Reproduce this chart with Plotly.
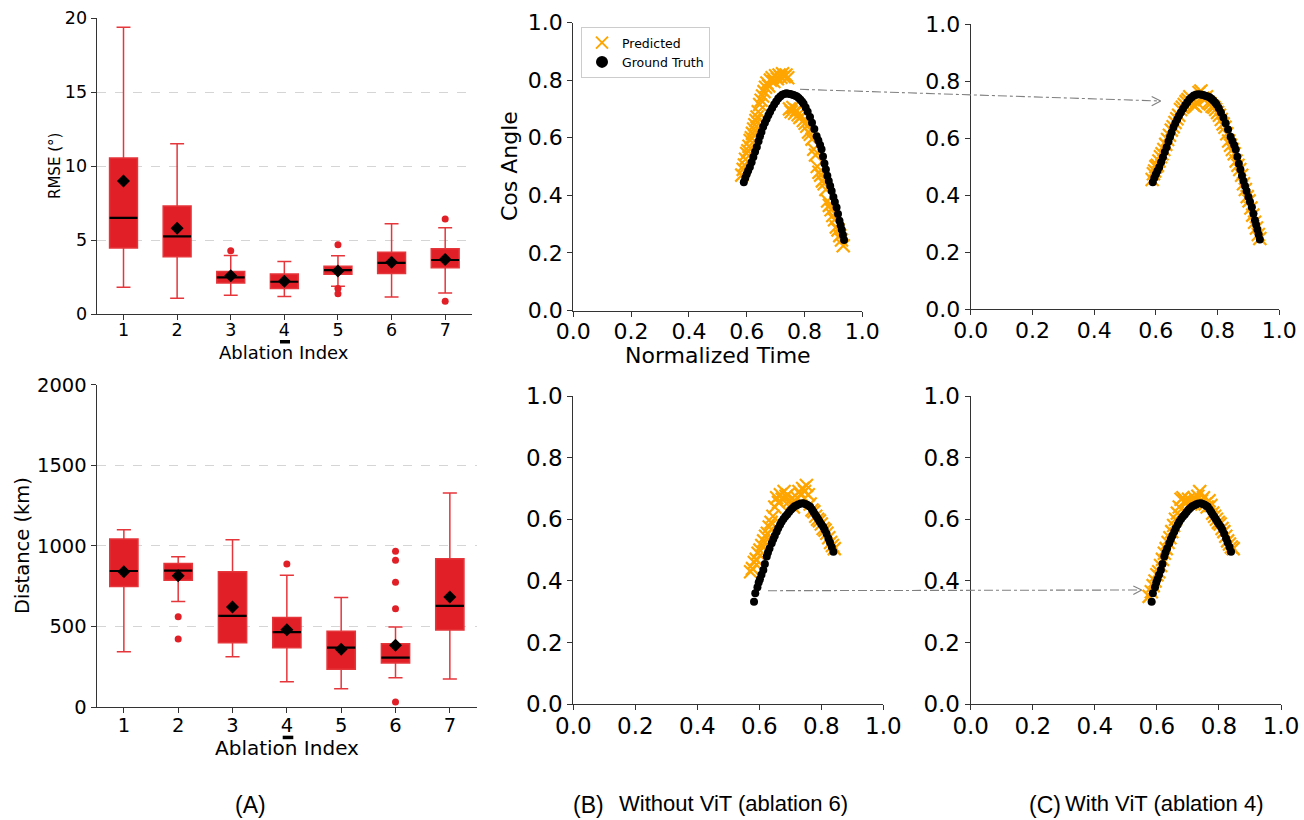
import plotly.graph_objects as go

W, H = 1304, 820

# ---------------- Data ----------------
ablation_idx = [1, 2, 3, 4, 5, 6, 7]

# RMSE (deg) box statistics
rmse_lower = [1.80, 1.06, 1.26, 1.19, 1.87, 1.15, 1.42]
rmse_q1 = [4.46, 3.87, 2.09, 1.73, 2.68, 2.73, 3.13]
rmse_median = [6.49, 5.25, 2.48, 2.18, 2.97, 3.45, 3.65]
rmse_q3 = [10.54, 7.30, 2.88, 2.70, 3.22, 4.17, 4.41]
rmse_upper = [19.37, 11.51, 3.96, 3.54, 3.94, 6.10, 5.83]
rmse_mean = [8.99, 5.79, 2.59, 2.21, 2.91, 3.49, 3.69]
rmse_out_x = [3, 5, 5, 5, 7, 7]
rmse_out_y = [4.28, 4.68, 1.73, 1.37, 6.42, 0.86]

# Distance (km) box statistics
dist_lower = [343, 654, 312, 157, 114, 182, 174]
dist_q1 = [747, 786, 399, 368, 234, 273, 478]
dist_median = [844, 846, 565, 465, 368, 306, 627]
dist_q3 = [1042, 891, 840, 556, 470, 393, 920]
dist_upper = [1100, 933, 1038, 817, 680, 496, 1328]
dist_mean = [840, 815, 620, 480, 358, 383, 683]
dist_out_x = [2, 2, 4, 6, 6, 6, 6, 6]
dist_out_y = [560, 422, 887, 966, 910, 774, 610, 31]

# Top row ground truth (normalized time, cos angle)
gt_top_x = [0.590, 0.595, 0.600, 0.605, 0.611, 0.617, 0.623, 0.629, 0.635, 0.641,
            0.646, 0.651, 0.657, 0.663, 0.669, 0.675, 0.681, 0.688, 0.695, 0.702,
            0.709, 0.716, 0.723, 0.730, 0.737, 0.744, 0.750, 0.756, 0.762, 0.768,
            0.774, 0.780, 0.786, 0.792, 0.797, 0.804, 0.811, 0.819, 0.826, 0.834,
            0.842, 0.848, 0.854, 0.859, 0.864, 0.869, 0.874, 0.879, 0.884, 0.889,
            0.894, 0.900, 0.905, 0.911, 0.916, 0.921, 0.925, 0.929, 0.933, 0.937]
gt_top_y = [0.445, 0.460, 0.473, 0.485, 0.498, 0.515, 0.533, 0.551, 0.568, 0.588,
            0.605, 0.620, 0.638, 0.652, 0.665, 0.678, 0.690, 0.703, 0.715, 0.726,
            0.736, 0.743, 0.749, 0.752, 0.754, 0.753, 0.752, 0.750, 0.748, 0.746,
            0.743, 0.738, 0.732, 0.725, 0.718, 0.705, 0.690, 0.672, 0.652, 0.630,
            0.605, 0.590, 0.575, 0.560, 0.535, 0.510, 0.490, 0.468, 0.450, 0.432,
            0.415, 0.394, 0.377, 0.358, 0.335, 0.312, 0.296, 0.280, 0.262, 0.245]

# Top row predicted, without ViT (ablation 6)
pred_top_b_x = [0.583, 0.588, 0.592, 0.596, 0.600, 0.604, 0.608, 0.612, 0.616, 0.620,
                0.624, 0.628, 0.632, 0.636, 0.640, 0.645, 0.650, 0.655, 0.660, 0.665,
                0.670, 0.676, 0.682, 0.688, 0.694, 0.700, 0.706, 0.712, 0.718, 0.724,
                0.730, 0.736, 0.742, 0.748, 0.754, 0.760, 0.766, 0.772, 0.778, 0.784,
                0.790, 0.796, 0.802, 0.808, 0.814, 0.820, 0.826, 0.832, 0.838, 0.844,
                0.850, 0.856, 0.862, 0.868, 0.874, 0.880, 0.886, 0.892, 0.898, 0.904,
                0.910, 0.916, 0.922, 0.928, 0.934]
pred_top_b_y = [0.470, 0.490, 0.505, 0.525, 0.545, 0.555, 0.570, 0.590, 0.600, 0.615,
                0.630, 0.645, 0.660, 0.672, 0.690, 0.715, 0.730, 0.745, 0.760, 0.775,
                0.790, 0.780, 0.800, 0.808, 0.795, 0.815, 0.805, 0.818, 0.810, 0.822,
                0.812, 0.818, 0.808, 0.700, 0.690, 0.705, 0.685, 0.695, 0.680, 0.670,
                0.675, 0.660, 0.650, 0.640, 0.620, 0.612, 0.595, 0.560, 0.540, 0.500,
                0.480, 0.470, 0.450, 0.440, 0.420, 0.380, 0.365, 0.350, 0.330, 0.315,
                0.290, 0.280, 0.260, 0.245, 0.225]

# Top row predicted, with ViT (ablation 4)
pred_top_c_x = [0.588, 0.592, 0.596, 0.600, 0.605, 0.610, 0.615, 0.620, 0.626, 0.632,
                0.638, 0.644, 0.650, 0.656, 0.662, 0.668, 0.674, 0.680, 0.686, 0.692,
                0.698, 0.704, 0.710, 0.716, 0.722, 0.728, 0.734, 0.740, 0.746, 0.752,
                0.758, 0.764, 0.770, 0.776, 0.782, 0.788, 0.794, 0.800, 0.806, 0.812,
                0.818, 0.824, 0.830, 0.836, 0.842, 0.848, 0.854, 0.860, 0.866, 0.872,
                0.878, 0.884, 0.890, 0.896, 0.902, 0.908, 0.914, 0.920, 0.926, 0.932,
                0.937]
pred_top_c_y = [0.455, 0.475, 0.485, 0.500, 0.505, 0.520, 0.535, 0.545, 0.560, 0.578,
                0.595, 0.610, 0.628, 0.640, 0.655, 0.668, 0.680, 0.700, 0.708, 0.718,
                0.728, 0.735, 0.745, 0.722, 0.715, 0.712, 0.725, 0.760, 0.765, 0.740,
                0.735, 0.745, 0.725, 0.720, 0.712, 0.708, 0.700, 0.690, 0.680, 0.665,
                0.650, 0.638, 0.615, 0.590, 0.575, 0.560, 0.545, 0.520, 0.505, 0.490,
                0.470, 0.440, 0.420, 0.395, 0.380, 0.355, 0.330, 0.305, 0.285, 0.262,
                0.248]

# Bottom row ground truth
gt_bot_x = [0.583, 0.587, 0.594, 0.598, 0.602, 0.607, 0.613, 0.618, 0.624, 0.628,
            0.633, 0.640, 0.645, 0.650, 0.656, 0.661, 0.667, 0.672, 0.678, 0.684,
            0.690, 0.696, 0.702, 0.708, 0.714, 0.721, 0.727, 0.734, 0.742, 0.748,
            0.754, 0.760, 0.764, 0.770, 0.775, 0.780, 0.785, 0.790, 0.795, 0.800,
            0.806, 0.811, 0.817, 0.823, 0.828, 0.834, 0.839]
gt_bot_y = [0.333, 0.360, 0.380, 0.395, 0.406, 0.420, 0.436, 0.455, 0.479, 0.492,
            0.505, 0.522, 0.535, 0.547, 0.560, 0.571, 0.582, 0.592, 0.601, 0.609,
            0.616, 0.624, 0.631, 0.637, 0.642, 0.646, 0.649, 0.651, 0.652, 0.650,
            0.647, 0.643, 0.641, 0.632, 0.624, 0.616, 0.608, 0.600, 0.592, 0.584,
            0.576, 0.566, 0.553, 0.538, 0.525, 0.510, 0.495]

# Bottom row predicted, without ViT
pred_bot_b_x = [0.572, 0.578, 0.584, 0.590, 0.596, 0.602, 0.608, 0.614, 0.620, 0.626,
                0.632, 0.638, 0.644, 0.650, 0.656, 0.662, 0.668, 0.674, 0.680, 0.686,
                0.692, 0.698, 0.704, 0.710, 0.716, 0.722, 0.728, 0.734, 0.740, 0.746,
                0.752, 0.758, 0.764, 0.770, 0.776, 0.782, 0.788, 0.794, 0.800, 0.806,
                0.812, 0.818, 0.824, 0.830, 0.836, 0.842]
pred_bot_b_y = [0.430, 0.440, 0.460, 0.470, 0.490, 0.500, 0.515, 0.530, 0.545, 0.555,
                0.575, 0.590, 0.610, 0.640, 0.670, 0.655, 0.680, 0.665, 0.690, 0.675,
                0.680, 0.660, 0.650, 0.640, 0.660, 0.670, 0.690, 0.680, 0.700, 0.690,
                0.710, 0.680, 0.650, 0.630, 0.625, 0.610, 0.600, 0.595, 0.585, 0.570,
                0.565, 0.555, 0.540, 0.525, 0.515, 0.505]

# Bottom row predicted, with ViT
pred_bot_c_x = [0.575, 0.582, 0.588, 0.594, 0.600, 0.606, 0.612, 0.618, 0.624, 0.630,
                0.636, 0.642, 0.648, 0.654, 0.660, 0.666, 0.672, 0.678, 0.684, 0.690,
                0.696, 0.702, 0.708, 0.714, 0.720, 0.726, 0.732, 0.738, 0.744, 0.750,
                0.756, 0.762, 0.768, 0.774, 0.780, 0.786, 0.792, 0.798, 0.804, 0.810,
                0.816, 0.822, 0.828, 0.834, 0.840, 0.846]
pred_bot_c_y = [0.350, 0.365, 0.385, 0.400, 0.420, 0.430, 0.450, 0.470, 0.490, 0.505,
                0.525, 0.540, 0.560, 0.580, 0.600, 0.620, 0.640, 0.665, 0.670, 0.660,
                0.655, 0.665, 0.650, 0.655, 0.670, 0.660, 0.675, 0.690, 0.660, 0.670,
                0.650, 0.640, 0.660, 0.645, 0.620, 0.610, 0.600, 0.590, 0.585, 0.570,
                0.560, 0.545, 0.530, 0.520, 0.510, 0.505]

rmse_ticks = [0, 5, 10, 15, 20]
dist_ticks = [0, 500, 1000, 1500, 2000]
unit_ticks = [0.0, 0.2, 0.4, 0.6, 0.8, 1.0]
unit_labels = ["0.0", "0.2", "0.4", "0.6", "0.8", "1.0"]

# ---------------- Styles ----------------
FONT = "DejaVu Sans"
RED = "#E11F26"
RED_LINE = "#E5363B"
ORANGE = "#FFA500"
BOX_W = 0.52


def fx(px):
    return px / W


def fy(py):
    return 1 - py / H


fig = go.Figure()


def add_box_panel(xa, ya, lower, q1, med, q3, upper, mean, ox, oy):
    fig.add_trace(go.Box(
        x=ablation_idx, lowerfence=lower, q1=q1, median=med, q3=q3, upperfence=upper,
        boxpoints=False, width=BOX_W, whiskerwidth=0.5,
        fillcolor=RED, line=dict(color=RED_LINE, width=1.5),
        xaxis=xa, yaxis=ya, showlegend=False, hoverinfo="skip"))
    mx, my = [], []
    for i, m in zip(ablation_idx, med):
        mx += [i - BOX_W / 2, i + BOX_W / 2, None]
        my += [m, m, None]
    fig.add_trace(go.Scatter(x=mx, y=my, mode="lines", line=dict(color="black", width=2.2),
                             xaxis=xa, yaxis=ya, showlegend=False, hoverinfo="skip"))
    fig.add_trace(go.Scatter(x=ox, y=oy, mode="markers",
                             marker=dict(symbol="circle", size=7, color=RED),
                             xaxis=xa, yaxis=ya, showlegend=False))
    fig.add_trace(go.Scatter(x=ablation_idx, y=mean, mode="markers",
                             marker=dict(symbol="diamond", size=10, color="black"),
                             xaxis=xa, yaxis=ya, showlegend=False))


add_box_panel("x", "y", rmse_lower, rmse_q1, rmse_median, rmse_q3, rmse_upper,
              rmse_mean, rmse_out_x, rmse_out_y)
add_box_panel("x2", "y2", dist_lower, dist_q1, dist_median, dist_q3, dist_upper,
              dist_mean, dist_out_x, dist_out_y)


def add_scatter_panel(xa, ya, px_, py_, gx, gy, legend):
    fig.add_trace(go.Scatter(
        x=px_, y=py_, mode="markers", name="Predicted",
        marker=dict(symbol="x-thin", size=13, line=dict(color=ORANGE, width=2.2), color=ORANGE),
        xaxis=xa, yaxis=ya, showlegend=legend))
    fig.add_trace(go.Scatter(
        x=gx, y=gy, mode="markers", name="Ground Truth",
        marker=dict(symbol="circle", size=8, color="black"),
        xaxis=xa, yaxis=ya, showlegend=legend))


add_scatter_panel("x3", "y3", pred_top_b_x, pred_top_b_y, gt_top_x, gt_top_y, True)
add_scatter_panel("x4", "y4", pred_top_c_x, pred_top_c_y, gt_top_x, gt_top_y, False)
add_scatter_panel("x5", "y5", pred_bot_b_x, pred_bot_b_y, gt_bot_x, gt_bot_y, False)
add_scatter_panel("x6", "y6", pred_bot_c_x, pred_bot_c_y, gt_bot_x, gt_bot_y, False)

axis_common = dict(showline=True, linecolor="#333333", linewidth=1.2, ticks="outside",
                   ticklen=5, tickwidth=1.2, tickcolor="#333333", zeroline=False,
                   mirror=False, automargin=False)


def box_x(dom, y_anchor, size):
    return dict(axis_common, domain=dom, anchor=y_anchor, range=[0.5, 7.5],
                tickvals=ablation_idx, ticktext=[str(i) for i in ablation_idx],
                showgrid=False, tickfont=dict(size=size, color="black"),
                ticklabelstandoff=-5)


def box_y(dom, x_anchor, rng, ticks, size):
    return dict(axis_common, domain=dom, anchor=x_anchor, range=rng, tickvals=ticks,
                showgrid=True, gridcolor="#d5d5d5", griddash="dash", gridwidth=0.8,
                tickfont=dict(size=size, color="black"))


def sc_x(dom, y_anchor, size):
    return dict(axis_common, domain=dom, anchor=y_anchor, range=[0, 1],
                tickvals=unit_ticks, ticktext=unit_labels, showgrid=False,
                tickfont=dict(size=size, color="black"), ticklabelstandoff=-4)


def sc_y(dom, x_anchor, size):
    return dict(axis_common, domain=dom, anchor=x_anchor, range=[0, 1],
                tickvals=unit_ticks, ticktext=unit_labels, showgrid=False,
                tickfont=dict(size=size, color="black"))


layout_axes = dict(
    xaxis=box_x([fx(96.7), fx(472)], "y", 17.5),
    yaxis=box_y([fy(314), fy(18)], "x", [0, 20], rmse_ticks, 17.5),
    xaxis2=box_x([fx(96.7), fx(477)], "y2", 19.5),
    yaxis2=box_y([fy(707), fy(384.7)], "x2", [0, 2000], dist_ticks, 19.5),
    xaxis3=sc_x([fx(573.3), fx(862.3)], "y3", 22),
    yaxis3=sc_y([fy(310.5), fy(22.5)], "x3", 22),
    xaxis4=sc_x([fx(970.7), fx(1279.3)], "y4", 22),
    yaxis4=sc_y([fy(309.3), fy(24)], "x4", 22),
    xaxis5=sc_x([fx(573.3), fx(883.3)], "y5", 23),
    yaxis5=sc_y([fy(704.3), fy(396)], "x5", 23),
    xaxis6=sc_x([fx(970.7), fx(1281)], "y6", 23),
    yaxis6=sc_y([fy(704.3), fy(396)], "x6", 23),
)

annotations = []


def text(x, y, s, size, angle=0, family=FONT):
    annotations.append(dict(x=fx(x), y=fy(y), xref="paper", yref="paper", text=s,
                            showarrow=False, textangle=angle,
                            font=dict(family=family, size=size, color="black"),
                            xanchor="center", yanchor="middle"))


text(55, 166, "RMSE (°)", 15, -90)
text(284, 353, "Ablation Index", 18)
text(22, 546, "Distance (km)", 19.5, -90)
text(287, 748, "Ablation Index", 20)
text(510, 166, "Cos Angle", 22, -90)
text(718, 356, "Normalized Time", 22)

CAP = "Liberation Sans Narrow, Liberation Sans, DejaVu Sans"
text(250, 805, "(A)", 23, family=CAP)
text(588, 805, "(B)", 23, family=CAP)
text(733, 803, "Without ViT (ablation 6)", 22, family=CAP)
text(1045, 805, "(C)", 23, family=CAP)
text(1164, 803, "With ViT (ablation 4)", 22, family=CAP)

shapes = []
GRAY = "#808080"


def pline(x0, y0, x1, y1, dash="solid"):
    shapes.append(dict(type="line", xref="paper", yref="paper",
                       x0=fx(x0), y0=fy(y0), x1=fx(x1), y1=fy(y1),
                       line=dict(color=GRAY, width=1.1, dash=dash)))


# connecting arrows between panels
pline(800, 89.3, 1160, 101, "dashdot")
pline(1151.7, 96.5, 1160.7, 101)
pline(1151.7, 105.7, 1160.7, 101)
pline(768, 590.7, 1141, 590, "dashdot")
pline(1133.3, 586, 1141.7, 590)
pline(1133.3, 594.5, 1141.7, 590)

# small marks beneath index 4
for (x0, y0, x1, y1) in [(280, 340, 290, 343.5), (282.7, 735.7, 293.3, 739.2)]:
    shapes.append(dict(type="rect", xref="paper", yref="paper",
                       x0=fx(x0), y0=fy(y1), x1=fx(x1), y1=fy(y0),
                       fillcolor="black", line=dict(width=0)))

fig.update_layout(
    width=W, height=H, margin=dict(l=0, r=0, t=0, b=0, autoexpand=False),
    paper_bgcolor="white", plot_bgcolor="white",
    font=dict(family=FONT, color="black"),
    showlegend=True,
    legend=dict(x=fx(581), y=fy(27), xanchor="left", yanchor="top",
                bgcolor="rgba(255,255,255,0.9)", bordercolor="#cccccc", borderwidth=1,
                font=dict(size=12.5, family=FONT), itemsizing="constant",
                tracegroupgap=0),
    annotations=annotations, shapes=shapes,
    **layout_axes,
)

fig.write_html("out.html")
